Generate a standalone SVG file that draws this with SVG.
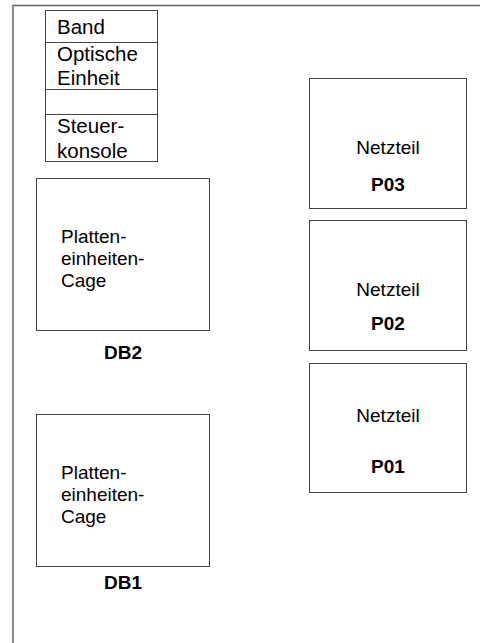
<svg xmlns="http://www.w3.org/2000/svg" width="480" height="643" viewBox="0 0 480 643">
<style>
.frame{fill:none;stroke:#666;stroke-width:1.5}
.box{fill:#fff;stroke:#444;stroke-width:1}
.t{font-family:"Liberation Sans",Arial,sans-serif;font-size:19px;fill:#000}
.s{font-size:20.5px}
.b{font-family:"Liberation Sans",Arial,sans-serif;font-size:19px;font-weight:bold;fill:#000;text-anchor:middle}
.c{text-anchor:middle}
</style>
<rect width="480" height="643" fill="#fff"/>
<g id="frame">
<path class="frame" d="M13,643 V5.5 H480"/>
</g>
<g id="stack">
<rect class="box" x="45.5" y="10.5" width="112" height="151"/>
<line class="box" x1="45.5" y1="42.5" x2="157.5" y2="42.5"/>
<line class="box" x1="45.5" y1="89.5" x2="157.5" y2="89.5"/>
<line class="box" x1="45.5" y1="114.5" x2="157.5" y2="114.5"/>
<text class="t s" x="57" y="34">Band</text>
<text class="t s" x="57" y="61">Optische</text>
<text class="t s" x="57" y="85">Einheit</text>
<text class="t s" x="57" y="133">Steuer-</text>
<text class="t s" x="57" y="158">konsole</text>
</g>
<g id="DB2">
<rect class="box" x="36.5" y="178.5" width="173" height="152"/>
<text class="t" x="61" y="243">Platten-</text>
<text class="t" x="61" y="265">einheiten-</text>
<text class="t" x="61" y="287">Cage</text>
<text class="b" x="123" y="359">DB2</text>
</g>
<g id="DB1">
<rect class="box" x="36.5" y="414.5" width="173" height="152"/>
<text class="t" x="61" y="479">Platten-</text>
<text class="t" x="61" y="501">einheiten-</text>
<text class="t" x="61" y="523">Cage</text>
<text class="b" x="123" y="589">DB1</text>
</g>
<g id="P03">
<rect class="box" x="309.5" y="78.5" width="157" height="130"/>
<text class="t c" x="388" y="154">Netzteil</text>
<text class="b" x="388" y="191">P03</text>
</g>
<g id="P02">
<rect class="box" x="309.5" y="220.5" width="157" height="130"/>
<text class="t c" x="388" y="296">Netzteil</text>
<text class="b" x="388" y="330">P02</text>
</g>
<g id="P01">
<rect class="box" x="309.5" y="363.5" width="157" height="129"/>
<text class="t c" x="388" y="422">Netzteil</text>
<text class="b" x="388" y="473">P01</text>
</g>
<g id="connectors"/>
</svg>
